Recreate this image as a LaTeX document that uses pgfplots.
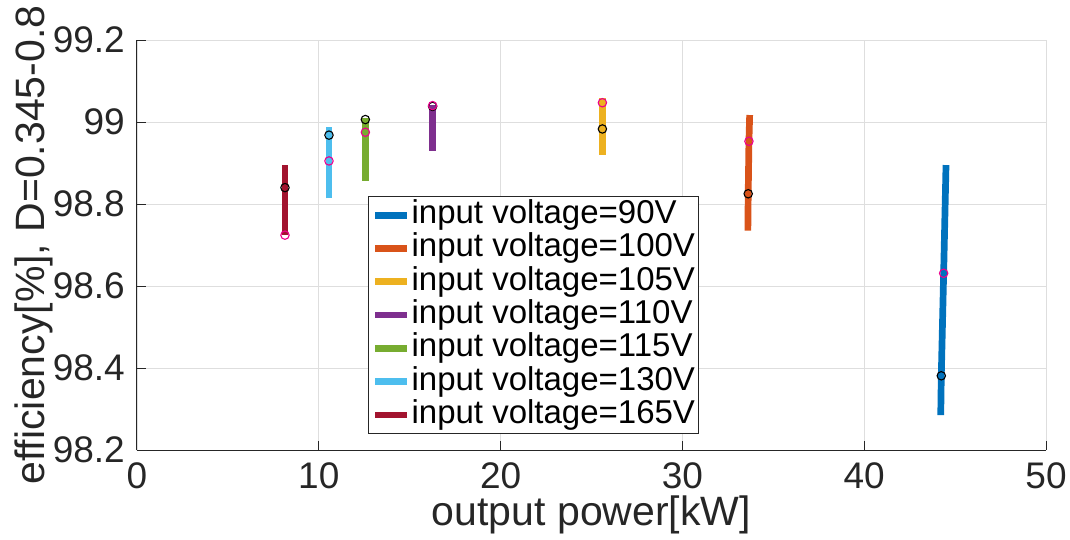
\documentclass[border=0pt]{standalone}
\usepackage{pgfplots}
\pgfplotsset{compat=1.18}
\usepackage{fontspec}
\setmainfont{Liberation Sans}

\definecolor{axgray}{rgb}{0.15,0.15,0.15}
\definecolor{gridgray}{rgb}{0.87,0.87,0.87}
\definecolor{c90}{rgb}{0,0.447,0.741}
\definecolor{c100}{rgb}{0.85,0.325,0.098}
\definecolor{c105}{rgb}{0.929,0.694,0.125}
\definecolor{c110}{rgb}{0.494,0.184,0.556}
\definecolor{c115}{rgb}{0.466,0.674,0.188}
\definecolor{c130}{rgb}{0.301,0.745,0.933}
\definecolor{c165}{rgb}{0.635,0.078,0.184}

\pgfplotsset{
  sweep/.style={color=#1, line width=6.7pt},
  ptA/.style={only marks, mark=o, mark size=4.2pt, forget plot,
    mark options={draw=black, line width=1.1pt}},
  ptB/.style={only marks, mark=o, mark size=4.2pt, forget plot,
    mark options={draw=magenta, line width=1.1pt}},
}

\begin{document}
\begin{tikzpicture}
\begin{axis}[
  name=ax,
  scale only axis,
  width=909pt, height=410pt,
  xmin=0, xmax=50, ymin=98.2, ymax=99.2,
  xtick={0,10,20,30,40,50},
  ytick={98.2,98.4,98.6,98.8,99,99.2},
  axis x line*=bottom, axis y line*=left,
  axis line style={-, draw=axgray, line width=1pt},
  grid=major,
  major grid style={draw=gridgray, line width=0.9pt},
  tick align=inside,
  major tick length=9pt,
  tick style={draw=axgray, line width=1pt},
  /pgf/number format/assume math mode=true,
  ticklabel style={font=\fontsize{37}{37}\selectfont, text=axgray, inner sep=0pt},
  xticklabel style={anchor=north, yshift=-12pt, text depth=0pt},
  yticklabel style={anchor=east, xshift=-12pt},
  label style={font=\fontsize{41}{41}\selectfont, text=axgray, inner sep=0pt},
  xlabel={output power[kW]},
  ylabel={efficiency[\%],\ D=0.345-0.8},
  xlabel style={at={(axis description cs:0.5,-0.184)}, anchor=base},
  ylabel style={at={(axis description cs:-0.1023,0.5)}, anchor=base, rotate=0},
  legend cell align=left,
  legend image code/.code={\draw[#1] (0pt,0pt) -- (32pt,0pt);},
  legend style={
    at={(axis description cs:0.254,0.6195)}, anchor=north west,
    draw=axgray, line width=1pt, fill=white,
    font=\fontsize{33}{33}\selectfont,
    inner xsep=3.5pt, inner ysep=2pt,
    nodes={inner sep=0pt, text height=25pt, text depth=8.3pt},
    column sep=1pt,
  },
]
% sweeps of the duty cycle, one line per input voltage
\addplot[sweep=c90]  coordinates {(44.21,98.285) (44.24,98.381) (44.37,98.631) (44.50,98.895)};
\addlegendentry{input voltage=90V}
\addplot[sweep=c100] coordinates {(33.60,98.735) (33.62,98.825) (33.66,98.953) (33.70,99.017)};
\addlegendentry{input voltage=100V}
\addplot[sweep=c105] coordinates {(25.60,98.920) (25.60,98.983) (25.60,99.047) (25.60,99.058)};
\addlegendentry{input voltage=105V}
\addplot[sweep=c110] coordinates {(16.26,98.930) (16.26,99.038) (16.26,99.041)};
\addlegendentry{input voltage=110V}
\addplot[sweep=c115] coordinates {(12.56,98.857) (12.56,98.975) (12.56,99.009)};
\addlegendentry{input voltage=115V}
\addplot[sweep=c130] coordinates {(10.56,98.814) (10.56,98.905) (10.56,98.968) (10.56,98.989)};
\addlegendentry{input voltage=130V}
\addplot[sweep=c165] coordinates {(8.14,98.724) (8.14,98.840) (8.14,98.895)};
\addlegendentry{input voltage=165V}

% highlighted operating points
\addplot[ptA] coordinates {(44.24,98.381) (33.62,98.825) (25.60,98.983) (16.26,99.038)
  (12.56,99.006) (10.56,98.968) (8.14,98.840)};
\addplot[ptB] coordinates {(44.37,98.631) (33.66,98.953) (25.60,99.047) (16.26,99.040)
  (12.56,98.975) (10.56,98.905) (8.14,98.724)};
\end{axis}
\pgfresetboundingbox
\useasboundingbox ([shift={(-137pt,-89pt)}]ax.south west) rectangle ([shift={(933pt,450pt)}]ax.south west);
\end{tikzpicture}
\end{document}
